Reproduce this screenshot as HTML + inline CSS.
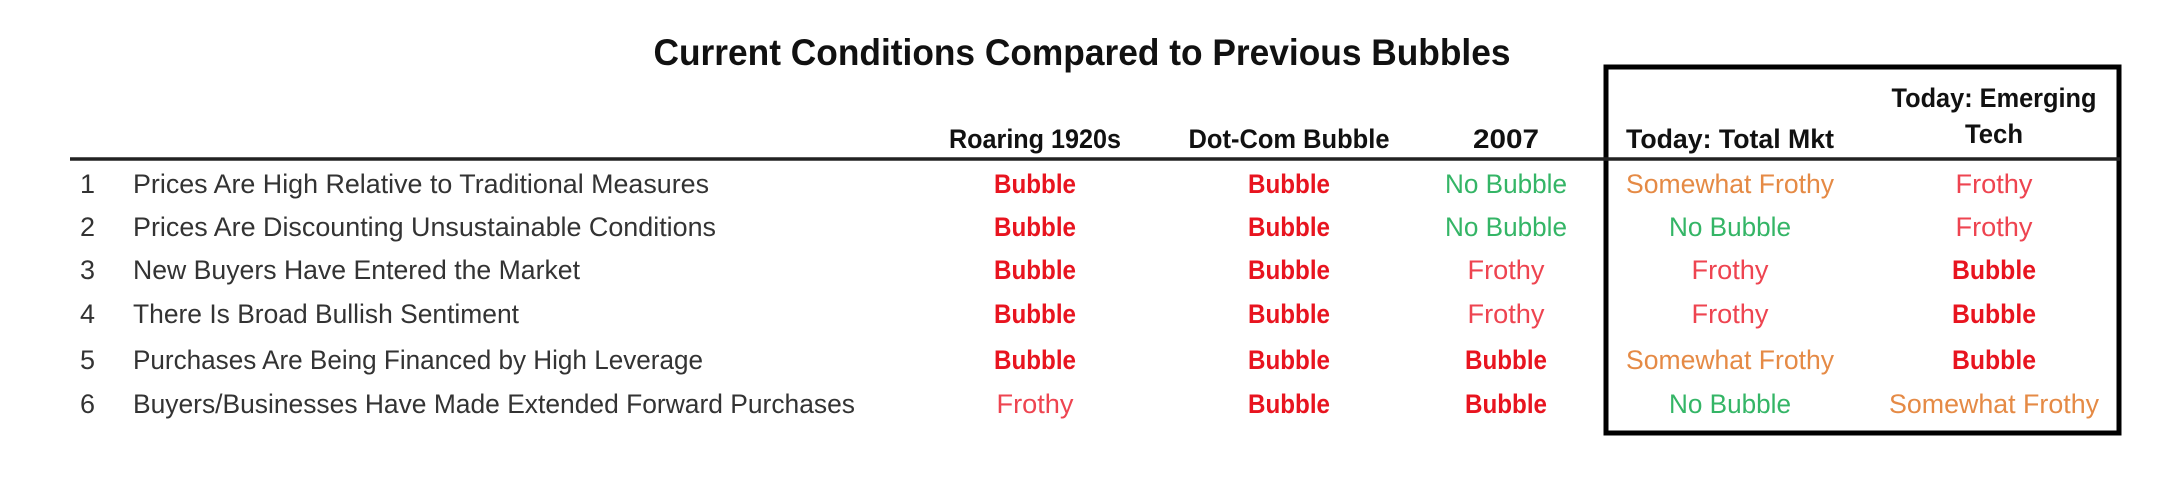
<!DOCTYPE html>
<html><head><meta charset="utf-8"><style>
html,body{margin:0;padding:0;background:#fff;width:2176px;height:480px;overflow:hidden}
svg{display:block}
text{font-family:"Liberation Sans",sans-serif}
.h{font-weight:bold;font-size:27px;fill:#111}
.l{font-size:27px;fill:#333}
.b{font-weight:bold;font-size:27px;fill:#e8141f}
.f{font-size:27px;fill:#ee4450}
.g{font-size:27px;fill:#34b566}
.o{font-size:27px;fill:#e58a45}
</style></head><body>
<svg width="2176" height="480" viewBox="0 0 2176 480" xmlns="http://www.w3.org/2000/svg">
<text x="1082" y="65" text-anchor="middle" font-weight="bold" font-size="37" fill="#111" textLength="857" lengthAdjust="spacingAndGlyphs">Current Conditions Compared to Previous Bubbles</text>
<rect x="1606" y="67" width="513" height="366" fill="none" stroke="#000" stroke-width="5"/>
<line x1="70" y1="159" x2="2120" y2="159" stroke="#222" stroke-width="3.5"/>
<g class="h" text-anchor="middle">
<text x="1035" y="148" textLength="172" lengthAdjust="spacingAndGlyphs">Roaring 1920s</text>
<text x="1289" y="148" textLength="201" lengthAdjust="spacingAndGlyphs">Dot-Com Bubble</text>
<text x="1506" y="148" textLength="66" lengthAdjust="spacingAndGlyphs">2007</text>
<text x="1730" y="148" textLength="208" lengthAdjust="spacingAndGlyphs">Today: Total Mkt</text>
<text x="1994" y="107" textLength="205" lengthAdjust="spacingAndGlyphs">Today: Emerging</text>
<text x="1994" y="143" textLength="58" lengthAdjust="spacingAndGlyphs">Tech</text>
</g>
<g class="l">
<text x="80" y="193">1</text><text x="133" y="193" textLength="576" lengthAdjust="spacingAndGlyphs">Prices Are High Relative to Traditional Measures</text>
<text x="80" y="236">2</text><text x="133" y="236" textLength="583" lengthAdjust="spacingAndGlyphs">Prices Are Discounting Unsustainable Conditions</text>
<text x="80" y="279">3</text><text x="133" y="279" textLength="447" lengthAdjust="spacingAndGlyphs">New Buyers Have Entered the Market</text>
<text x="80" y="323">4</text><text x="133" y="323" textLength="386" lengthAdjust="spacingAndGlyphs">There Is Broad Bullish Sentiment</text>
<text x="80" y="369">5</text><text x="133" y="369" textLength="570" lengthAdjust="spacingAndGlyphs">Purchases Are Being Financed by High Leverage</text>
<text x="80" y="413">6</text><text x="133" y="413" textLength="722" lengthAdjust="spacingAndGlyphs">Buyers/Businesses Have Made Extended Forward Purchases</text>
</g>
<g text-anchor="middle">
<text class="b" x="1035" y="193" textLength="82" lengthAdjust="spacingAndGlyphs">Bubble</text>
<text class="b" x="1289" y="193" textLength="82" lengthAdjust="spacingAndGlyphs">Bubble</text>
<text class="g" x="1506" y="193" textLength="122" lengthAdjust="spacingAndGlyphs">No Bubble</text>
<text class="o" x="1730" y="193" textLength="208" lengthAdjust="spacingAndGlyphs">Somewhat Frothy</text>
<text class="f" x="1994" y="193" textLength="77" lengthAdjust="spacingAndGlyphs">Frothy</text>

<text class="b" x="1035" y="236" textLength="82" lengthAdjust="spacingAndGlyphs">Bubble</text>
<text class="b" x="1289" y="236" textLength="82" lengthAdjust="spacingAndGlyphs">Bubble</text>
<text class="g" x="1506" y="236" textLength="122" lengthAdjust="spacingAndGlyphs">No Bubble</text>
<text class="g" x="1730" y="236" textLength="122" lengthAdjust="spacingAndGlyphs">No Bubble</text>
<text class="f" x="1994" y="236" textLength="77" lengthAdjust="spacingAndGlyphs">Frothy</text>

<text class="b" x="1035" y="279" textLength="82" lengthAdjust="spacingAndGlyphs">Bubble</text>
<text class="b" x="1289" y="279" textLength="82" lengthAdjust="spacingAndGlyphs">Bubble</text>
<text class="f" x="1506" y="279" textLength="77" lengthAdjust="spacingAndGlyphs">Frothy</text>
<text class="f" x="1730" y="279" textLength="77" lengthAdjust="spacingAndGlyphs">Frothy</text>
<text class="b" x="1994" y="279" textLength="84" lengthAdjust="spacingAndGlyphs">Bubble</text>

<text class="b" x="1035" y="323" textLength="82" lengthAdjust="spacingAndGlyphs">Bubble</text>
<text class="b" x="1289" y="323" textLength="82" lengthAdjust="spacingAndGlyphs">Bubble</text>
<text class="f" x="1506" y="323" textLength="77" lengthAdjust="spacingAndGlyphs">Frothy</text>
<text class="f" x="1730" y="323" textLength="77" lengthAdjust="spacingAndGlyphs">Frothy</text>
<text class="b" x="1994" y="323" textLength="84" lengthAdjust="spacingAndGlyphs">Bubble</text>

<text class="b" x="1035" y="369" textLength="82" lengthAdjust="spacingAndGlyphs">Bubble</text>
<text class="b" x="1289" y="369" textLength="82" lengthAdjust="spacingAndGlyphs">Bubble</text>
<text class="b" x="1506" y="369" textLength="82" lengthAdjust="spacingAndGlyphs">Bubble</text>
<text class="o" x="1730" y="369" textLength="208" lengthAdjust="spacingAndGlyphs">Somewhat Frothy</text>
<text class="b" x="1994" y="369" textLength="84" lengthAdjust="spacingAndGlyphs">Bubble</text>

<text class="f" x="1035" y="413" textLength="77" lengthAdjust="spacingAndGlyphs">Frothy</text>
<text class="b" x="1289" y="413" textLength="82" lengthAdjust="spacingAndGlyphs">Bubble</text>
<text class="b" x="1506" y="413" textLength="82" lengthAdjust="spacingAndGlyphs">Bubble</text>
<text class="g" x="1730" y="413" textLength="122" lengthAdjust="spacingAndGlyphs">No Bubble</text>
<text class="o" x="1994" y="413" textLength="210" lengthAdjust="spacingAndGlyphs">Somewhat Frothy</text>
</g>
</svg>
</body></html>
